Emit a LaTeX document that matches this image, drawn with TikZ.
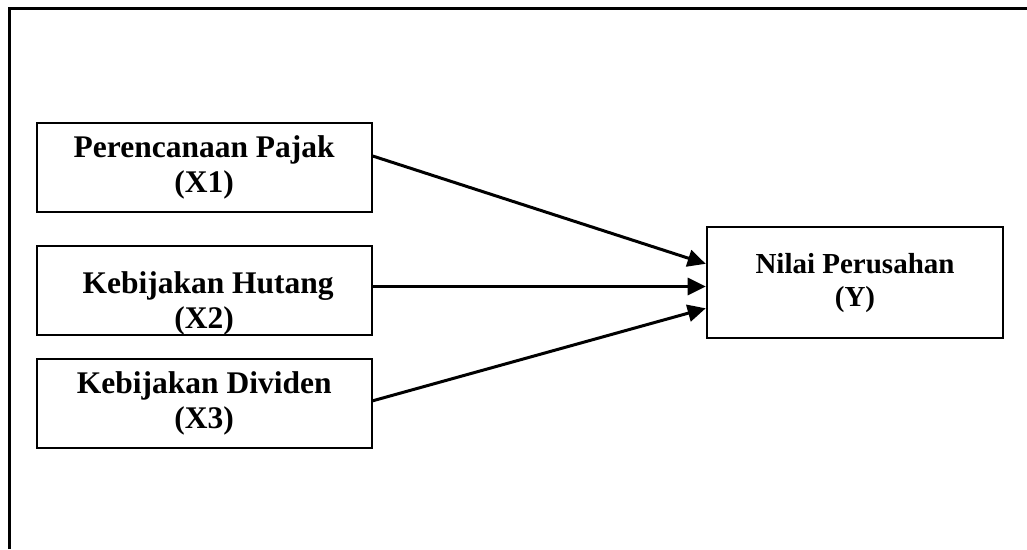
\documentclass[tikz,border=0pt]{standalone}
\usepackage{fontspec}
\setmainfont{Liberation Serif}
\usetikzlibrary{arrows.meta}
\tikzset{
  box/.style={draw, line width=2pt, minimum width=335pt, inner sep=0pt},
  txt/.style={align=center, font=\bfseries\fontsize{31.5}{35}\selectfont},
  ytxt/.style={align=center, font=\bfseries\fontsize{29}{33}\selectfont},
  link/.style={line width=3pt, -{Triangle[length=18pt,width=17pt]}},
  frame/.style={line width=3pt}
}
\begin{document}
\begin{tikzpicture}[x=1pt,y=-1pt]
\useasboundingbox (0,0) rectangle (1027,549);
% outer frame (left and top edges)
\draw[frame] (9.5,549) -- (9.5,8) -- (1027,8);
% independent variables
\node[box, minimum height=88.4pt, label={[txt]center:{Perencanaan Pajak\\(X1)}}] (x1) at (204.2,167.5) {};
\node[box, minimum height=89.3pt, label={[txt,yshift=-13pt]center:{\ Kebijakan Hutang\\(X2)}}] (x2) at (204.2,290.3) {};
\node[box, minimum height=89pt, label={[txt]center:{Kebijakan Dividen\\(X3)}}] (x3) at (204.2,403.8) {};
% dependent variable
\node[box, minimum width=296.6pt, minimum height=111pt, label={[ytxt]center:{Nilai Perusahan\\(Y)}}] (y) at (855,282.8) {};
% effects
\draw[link] ([yshift=11.5pt]x1.east) -- ([yshift=19pt]y.west);
\draw[link] ([yshift=3.8pt]x2.east) -- ([yshift=-3.7pt]y.west);
\draw[link] ([yshift=3pt]x3.east) -- ([yshift=-25.5pt]y.west);
\end{tikzpicture}
\end{document}
